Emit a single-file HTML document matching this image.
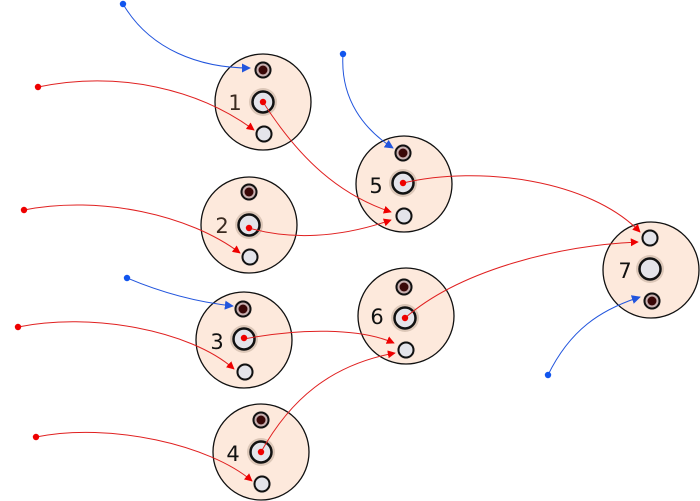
<!DOCTYPE html>
<html><head><meta charset="utf-8"><style>html,body{margin:0;padding:0;background:#fff}svg{display:block}</style></head><body>
<svg width="700" height="501" viewBox="0 0 700 501" xmlns="http://www.w3.org/2000/svg">
<defs>
<marker id="ar" viewBox="0 0 10 10" refX="9" refY="5" markerWidth="8" markerHeight="8" markerUnits="userSpaceOnUse" orient="auto"><path d="M0,0L10,5L0,10z" fill="#e00"/></marker>
<marker id="ab" viewBox="0 0 10 10" refX="9" refY="5" markerWidth="9" markerHeight="9" markerUnits="userSpaceOnUse" orient="auto"><path d="M0,0L10,5L0,10z" fill="#2255dd"/></marker>
<g id="top"><circle r="9" fill="#d8c8c0" opacity="0.6"/><circle r="7.5" fill="#c8b0b0" stroke="#111" stroke-width="2"/><circle r="4.5" fill="#3a0808"/></g>
<g id="mid"><circle r="14" fill="#cdb8a8" opacity="0.7"/><circle r="10.5" fill="#e4e4ea" stroke="#111" stroke-width="2.5"/></g>
<g id="bot"><circle r="9" fill="#d8c8c0" opacity="0.6"/><circle r="7.5" fill="#e4e4ea" stroke="#111" stroke-width="2"/></g>
</defs>
<g fill="#fde9dc" stroke="#111" stroke-width="1.3">
<circle cx="263" cy="102" r="48"/><circle cx="249" cy="225" r="48"/><circle cx="244" cy="340" r="48"/><circle cx="261" cy="452" r="48"/><circle cx="404" cy="184" r="48"/><circle cx="406" cy="316" r="48"/><circle cx="651" cy="270" r="48"/>
</g>
<g>
<use href="#top" x="263" y="70"/><use href="#mid" x="263" y="102"/><use href="#bot" x="264" y="134"/>
<use href="#top" x="249" y="192"/><use href="#mid" x="249" y="225"/><use href="#bot" x="250" y="257"/>
<use href="#top" x="243" y="309"/><use href="#mid" x="244" y="339"/><use href="#bot" x="245" y="372"/>
<use href="#top" x="261" y="420"/><use href="#mid" x="261" y="452"/><use href="#bot" x="262" y="484"/>
<use href="#top" x="403" y="153"/><use href="#mid" x="403" y="183"/><use href="#bot" x="404" y="216"/>
<use href="#top" x="404" y="287"/><use href="#mid" x="405" y="318"/><use href="#bot" x="406" y="350"/>
<use href="#bot" x="650" y="238"/><use href="#mid" x="650" y="269"/><use href="#top" x="652" y="301"/>
</g>
<g font-family="'DejaVu Sans','Liberation Sans',sans-serif" font-size="21" text-anchor="middle">
<text x="235" y="110" fill="#3a2a20">1</text><text x="222" y="233" fill="#3a2a20">2</text><text x="217" y="349" fill="#111">3</text><text x="233" y="461" fill="#111">4</text><text x="376" y="193" fill="#111">5</text><text x="377" y="324" fill="#111">6</text><text x="625" y="278" fill="#111">7</text>
</g>
<g fill="none" stroke-width="1">
<path d="M123,4 C150,50 200,68 250,68" stroke="#2255dd" marker-end="url(#ab)"/>
<path d="M343,54 C340,100 365,130 393,148" stroke="#2255dd" marker-end="url(#ab)"/>
<path d="M127,278 C160,292 195,302 233,306" stroke="#2255dd" marker-end="url(#ab)"/>
<path d="M548,375 C570,330 600,310 640,297" stroke="#2255dd" marker-end="url(#ab)"/>
<g stroke="#e02020">
<path d="M38,87 C120,70 200,90 254,130" marker-end="url(#ar)"/>
<path d="M24,210 C100,195 190,215 240,253" marker-end="url(#ar)"/>
<path d="M18,327 C90,312 190,330 234,369" marker-end="url(#ar)"/>
<path d="M36,437 C110,422 210,445 252,481" marker-end="url(#ar)"/>
<path d="M263,102 C300,160 340,195 391,212" marker-end="url(#ar)"/>
<path d="M249,228 C290,240 340,238 391,220" marker-end="url(#ar)"/>
<path d="M244,339 C300,328 360,328 394,343" marker-end="url(#ar)"/>
<path d="M261,452 C290,400 330,365 395,353" marker-end="url(#ar)"/>
<path d="M403,183 C480,165 590,180 640,232" marker-end="url(#ar)"/>
<path d="M405,318 C460,270 560,245 638,242" marker-end="url(#ar)"/>
</g>
</g>
<g fill="#e00">
<circle cx="38" cy="87" r="3.2"/><circle cx="24" cy="210" r="3.2"/><circle cx="18" cy="327" r="3.2"/><circle cx="36" cy="437" r="3.2"/>
<circle cx="263" cy="102" r="3.2"/><circle cx="249" cy="228" r="3.2"/><circle cx="244" cy="338" r="3.2"/><circle cx="261" cy="452" r="3.2"/><circle cx="403" cy="183" r="3.2"/><circle cx="405" cy="318" r="3.2"/>
</g>
<g fill="#1155ee">
<circle cx="123" cy="4" r="3.2"/><circle cx="343" cy="54" r="3.2"/><circle cx="127" cy="278" r="3.2"/><circle cx="548" cy="375" r="3.2"/>
</g>
</svg>
</body></html>
